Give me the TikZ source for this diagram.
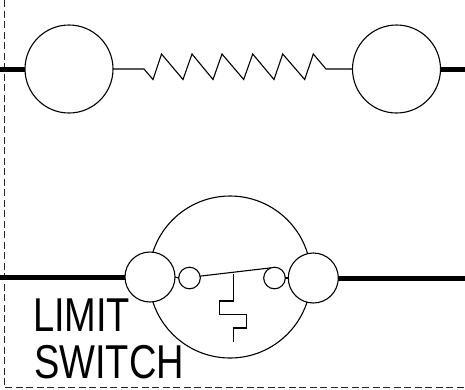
\documentclass[tikz,border=0pt]{standalone}
\usepackage{fontspec}
\setmainfont{Liberation Sans}
\tikzset{
  ring/.style={draw=black,circle,fill=white,inner sep=0pt,outer sep=0pt,line width=1.1pt},
  thin line/.style={draw=black,line width=1.1pt,line join=miter},
  thick wire/.style={draw=black,line width=5pt},
  frame line/.style={draw=black!85,line width=0.8pt,dash pattern=on 7pt off 3.5pt},
  caption/.style={font=\fontsize{47.5}{47.5}\selectfont,anchor=base west,inner sep=0pt,outer sep=0pt,xscale=0.80}
}
\begin{document}
\begin{tikzpicture}[x=1pt,y=-1pt]
\useasboundingbox (0,0) rectangle (465,389);
% frame
\coordinate (ftop) at (4.7,0);
\coordinate (fcorner) at (4.7,387.8);
\coordinate (fright) at (465,387.8);
\draw[frame line] (ftop) -- (fcorner) -- (fright);
% top row
\coordinate (wa) at (0,69);
\coordinate (wb) at (465,69);
\draw[thick wire] (wa) -- (69,69);
\draw[thick wire] (396.5,69) -- (wb);
\node[ring,minimum size=88pt] (c1) at (69,69) {};
\node[ring,minimum size=88pt] (c2) at (396.5,69) {};
\draw[thin line] (c1.east) -- (144,69) -- (153,79.5) -- (161.5,54) -- (183,79.5) -- (192,54) -- (213,79.5) -- (222,54) -- (243.7,79.5) -- (252.7,54) -- (274,79.5) -- (282.7,54) -- (304.7,79.5) -- (313.3,54) -- (326,69) -- (c2.west);
% switch
\coordinate (wc) at (0,277.5);
\coordinate (wd) at (465,278);
\node[ring,minimum size=162pt] (big) at (230,277) {};
\draw[thick wire] (wc) -- (150,277.5);
\draw[thick wire] (313.3,278) -- (wd);
\node[ring,minimum size=50pt] (ta) at (150,277) {};
\node[ring,minimum size=50pt] (tb) at (313.3,278) {};
\node[ring,minimum size=21.6pt] (sa) at (189.5,278) {};
\node[ring,minimum size=21.6pt] (sb) at (274.5,278) {};
\draw[thin line] (ta.east) -- (sa.west);
\draw[thin line] (sb.east) -- (tb.west);
\draw[thin line] (sa.10) -- (sb.110);
\coordinate (lev) at (233.3,274.4);
\coordinate (tail) at (233.3,342);
\draw[thin line] (lev) -- (233.3,301) -- (219.3,301) -- (219.3,314.7) -- (246.7,314.7) -- (246.7,328) -- (233.3,328) -- (tail);
% text
\node[caption] (l1) at (33,331) {LIMIT};
\node[caption] (l2) at (34,378) {SWITCH};
\end{tikzpicture}
\end{document}
